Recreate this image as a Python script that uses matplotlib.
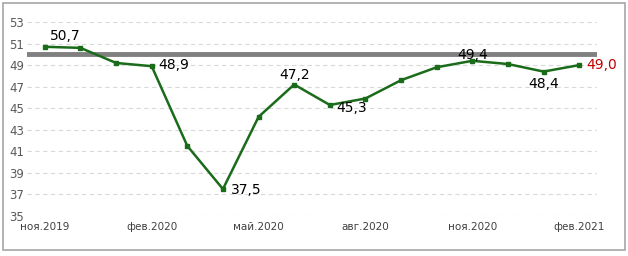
import matplotlib
matplotlib.use("Agg")
import matplotlib.pyplot as plt
from matplotlib.patches import Rectangle

months = ["ноя.2019", "дек.2019", "янв.2020", "фев.2020", "мар.2020", "апр.2020",
          "май.2020", "июн.2020", "июл.2020", "авг.2020", "сен.2020", "окт.2020",
          "ноя.2020", "дек.2020", "янв.2021", "фев.2021"]
values = [50.7, 50.6, 49.2, 48.9, 41.5, 37.5, 44.2, 47.2, 45.3, 45.9, 47.6, 48.8,
          49.4, 49.1, 48.4, 49.0]
threshold = 50
yticks = [35, 37, 39, 41, 43, 45, 47, 49, 51, 53]
xtick_idx = [0, 3, 6, 9, 12, 15]
# (index, offset_x, offset_y, ha, va, color)
labels = [(0, 4, 3, "left", "bottom", "black"),
          (3, 5, 1, "left", "center", "black"),
          (5, 6, -1, "left", "center", "black"),
          (7, 0, 2, "center", "bottom", "black"),
          (8, 5, -2, "left", "center", "black"),
          (12, 0, -1, "center", "bottom", "black"),
          (14, 0, -4, "center", "top", "black"),
          (15, 5, 0, "left", "center", "#C00000")]

fig = plt.figure(figsize=(6.28, 2.56), dpi=100)
fig.patches.append(Rectangle((3/628, 6/256), 622/628, 247/256, transform=fig.transFigure,
                             fill=False, edgecolor="#A6A6A6", linewidth=1.2))
ax = fig.add_axes([27/628, 40/256, 570/628, 194/256])
x = list(range(len(values)))
for t in yticks:
    ax.axhline(t, color="#D9D9D9", linestyle=(0, (4, 3)), linewidth=0.8, zorder=0)
ax.axhline(threshold, color="#808080", linewidth=3.5, zorder=1)
ax.plot(x, values, color="#1A6B1A", linewidth=1.8, marker="s", markersize=3.2, zorder=3)
for i, dx, dy, ha, va, c in labels:
    ax.annotate(f"{values[i]:.1f}".replace(".", ","), (i, values[i]), xytext=(dx, dy),
                textcoords="offset points", ha=ha, va=va, color=c, fontsize=10)
ax.set_xlim(-0.5, len(values) - 0.5)
ax.set_ylim(35, 53)
ax.set_yticks(yticks)
ax.set_yticklabels([str(t) for t in yticks], color="#595959", fontsize=8.5)
ax.set_xticks(xtick_idx)
ax.set_xticklabels([months[i] for i in xtick_idx], color="#404040", fontsize=7.5)
ax.tick_params(length=0, pad=2)
ax.tick_params(axis="x", pad=4)
for s in ax.spines.values():
    s.set_visible(False)
fig.savefig("out.png", dpi=100)
